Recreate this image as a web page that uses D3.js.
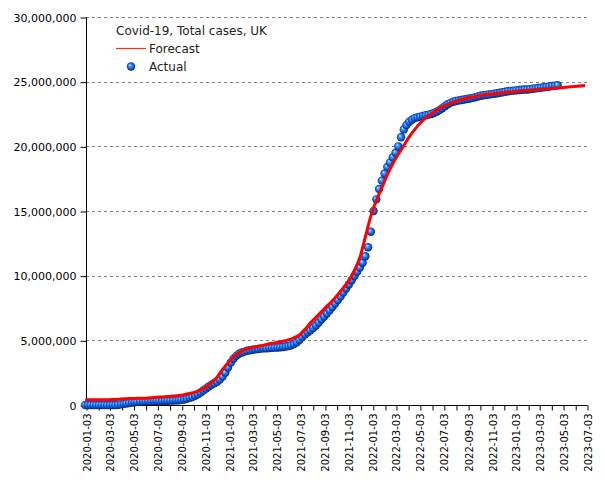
<!DOCTYPE html>
<html>
<head>
<meta charset="utf-8">
<script src="https://cdn.jsdelivr.net/npm/d3@7"></script>
<style>
  html, body { margin: 0; padding: 0; background: #fff; }
  svg { display: block; }
  text { font-family: "DejaVu Sans", sans-serif; }
</style>
</head>
<body>
<svg id="chart" width="605" height="480"></svg>
<script>
// ---- Data (millions of total cases) ----
const chartTitle = "Covid-19, Total cases, UK";
const seriesNames = ["Forecast", "Actual"];

// Actual: weekly observations starting 2020-01-01
const actualStart = "2020-01-01";
const actualStepDays = 7;
const actualValues = [
  0, 0, 0, 0, 0, 0, 0, 0, 0, 0,
  0.001, 0.005, 0.017, 0.045, 0.085, 0.12, 0.155, 0.19, 0.215, 0.24,
  0.258, 0.272, 0.284, 0.293, 0.3, 0.306, 0.312, 0.317, 0.322, 0.327,
  0.332, 0.338, 0.345, 0.355, 0.372, 0.395, 0.43, 0.48, 0.56, 0.62,
  0.72, 0.82, 0.97, 1.12, 1.28, 1.43, 1.57, 1.68, 1.80, 1.97,
  2.2, 2.5, 2.9, 3.28, 3.58, 3.8, 3.96, 4.06, 4.13, 4.19,
  4.23, 4.27, 4.3, 4.33, 4.36, 4.38, 4.39, 4.41, 4.42, 4.44,
  4.45, 4.47, 4.49, 4.52, 4.56, 4.62, 4.71, 4.84, 5.03, 5.25,
  5.45, 5.62, 5.78, 5.95, 6.15, 6.38, 6.62, 6.85, 7.08, 7.32,
  7.58, 7.85, 8.12, 8.4, 8.7, 9.0, 9.32, 9.65, 9.98, 10.3,
  10.62, 11.0, 11.5, 12.2, 13.4, 15.0, 15.9, 16.7, 17.35, 17.9,
  18.4, 18.75, 19.15, 19.5, 20.0, 20.7, 21.3, 21.65, 21.9, 22.05,
  22.18, 22.25, 22.3, 22.35, 22.4, 22.45, 22.5, 22.58, 22.68, 22.8,
  22.95, 23.1, 23.25, 23.36, 23.45, 23.5, 23.55, 23.58, 23.62, 23.66,
  23.7, 23.75, 23.8, 23.86, 23.91, 23.95, 23.98, 24.01, 24.04, 24.07,
  24.1, 24.14, 24.18, 24.22, 24.26, 24.29, 24.31, 24.33, 24.35, 24.37,
  24.39, 24.4, 24.42, 24.45, 24.48, 24.51, 24.54, 24.57, 24.6, 24.63,
  24.66, 24.69, 24.72
];

// Forecast: fortnightly model values starting 2020-01-01
const forecastStart = "2020-01-01";
const forecastStepDays = 14;
const forecastValues = [
  0.40, 0.40, 0.40, 0.41, 0.41, 0.42, 0.44, 0.48, 0.50, 0.51,
  0.52, 0.53, 0.56, 0.60, 0.62, 0.65, 0.69, 0.73, 0.80, 0.89,
  1.00, 1.17, 1.40, 1.75, 2.15, 2.75, 3.25, 3.73, 4.05, 4.28,
  4.40, 4.49, 4.58, 4.68, 4.77, 4.85, 4.93, 5.03, 5.20, 5.42,
  5.85, 6.35, 6.78, 7.20, 7.65, 8.05, 8.55, 9.05, 9.60, 10.4,
  11.4, 13.0, 14.6, 15.8, 16.8, 17.8, 18.65, 19.4, 20.05, 20.75,
  21.3, 21.8, 22.2, 22.5, 22.8, 23.05, 23.25, 23.42, 23.56, 23.68,
  23.78, 23.86, 23.94, 24.0, 24.05, 24.1, 24.15, 24.19, 24.23, 24.27,
  24.3, 24.33, 24.37, 24.41, 24.44, 24.48, 24.51, 24.55, 24.59, 24.63,
  24.66, 24.7
];

const yTickValues = [0, 5000000, 10000000, 15000000, 20000000, 25000000, 30000000];
const xDomain = ["2020-01-03", "2023-07-03"];
const xTickLabels = [
  "2020-01-03", "2020-03-03", "2020-05-03", "2020-07-03", "2020-09-03", "2020-11-03",
  "2021-01-03", "2021-03-03", "2021-05-03", "2021-07-03", "2021-09-03", "2021-11-03",
  "2022-01-03", "2022-03-03", "2022-05-03", "2022-07-03", "2022-09-03", "2022-11-03",
  "2023-01-03", "2023-03-03", "2023-05-03", "2023-07-03"
];

// ---- Build ----
(function () {
const parse = d3.utcParse("%Y-%m-%d");
const fmtDate = d3.utcFormat("%Y-%m-%d");
const actual = actualValues.map((v, i) => ({ date: d3.utcDay.offset(parse(actualStart), i * actualStepDays), value: v * 1e6 }));
const forecast = forecastValues.map((v, i) => ({ date: d3.utcDay.offset(parse(forecastStart), i * forecastStepDays), value: v * 1e6 }));

const svg = d3.select("#chart");
const mLeft = 86, mRight = 587, mTop = 17, mBottom = 405;

const x = d3.scaleUtc().domain(xDomain.map(parse)).range([mLeft, mRight]);
const y = d3.scaleLinear().domain([0, 30000000]).range([mBottom, mTop]);

// all monthly ticks (3rd of each month)
const monthTicks = d3.utcMonth.range(parse("2020-01-01"), d3.utcDay.offset(parse(xDomain[1]), 1))
  .map(d => d3.utcDay.offset(d, 2));
const labelSet = new Set(xTickLabels);

const defs = svg.append("defs");
const grad = defs.append("radialGradient").attr("id", "ball")
  .attr("cx", "0.5").attr("cy", "0.5").attr("r", "0.55")
  .attr("fx", "0.35").attr("fy", "0.32");
grad.append("stop").attr("offset", "0%").attr("stop-color", "#c4f0ff");
grad.append("stop").attr("offset", "30%").attr("stop-color", "#3d9cff");
grad.append("stop").attr("offset", "65%").attr("stop-color", "#1259dc");
grad.append("stop").attr("offset", "100%").attr("stop-color", "#001660");

// gridlines
svg.append("g").selectAll("line")
  .data(yTickValues.filter(v => v > 0))
  .join("line")
  .attr("x1", mLeft).attr("x2", mRight + 1)
  .attr("y1", d => Math.round(y(d)) + 0.5).attr("y2", d => Math.round(y(d)) + 0.5)
  .attr("stroke", "#808080").attr("stroke-width", 1).attr("stroke-dasharray", "3,3");

// y axis
const yAxis = d3.axisLeft(y).tickValues(yTickValues).tickSize(6).tickPadding(4)
  .tickFormat(d3.format(",d"));
const gy = svg.append("g").attr("transform", `translate(${mLeft + 0.5},0.5)`).call(yAxis);
gy.select(".domain").attr("stroke", "#000").attr("d", `M0,${mTop}V${mBottom}`);
gy.selectAll(".tick line").attr("stroke", "#000");
gy.selectAll(".tick text").attr("font-size", 11).attr("fill", "#000")
  .attr("font-family", "DejaVu Sans, sans-serif");

// x axis
const xAxis = d3.axisBottom(x).tickValues(monthTicks).tickSize(5).tickPadding(4)
  .tickFormat(d => labelSet.has(fmtDate(d)) ? fmtDate(d) : "");
const gx = svg.append("g").attr("transform", `translate(0.5,${mBottom + 0.5})`).call(xAxis);
gx.select(".domain").attr("stroke", "#000").attr("d", `M${mLeft},0H${mRight}`);
gx.selectAll(".tick line").attr("stroke", "#000");
gx.selectAll(".tick text")
  .attr("font-size", 10).attr("fill", "#000")
  .attr("font-family", "DejaVu Sans, sans-serif")
  .attr("text-anchor", "end")
  .attr("transform", "rotate(-90)")
  .attr("x", -8).attr("y", 0).attr("dy", "0.35em");

// actual dots
svg.append("g").selectAll("circle")
  .data(actual)
  .join("circle")
  .attr("cx", d => x(d.date)).attr("cy", d => y(d.value))
  .attr("r", 4.2).attr("fill", "url(#ball)");

// forecast line
svg.append("path")
  .datum(forecast)
  .attr("fill", "none").attr("stroke", "#ff0000").attr("stroke-width", 3)
  .attr("d", d3.line().x(d => x(d.date)).y(d => y(d.value)).curve(d3.curveMonotoneX));

// legend
const lg = svg.append("g");
lg.append("text").attr("x", 116).attr("y", 35).attr("font-size", 12).attr("fill", "#222").text(chartTitle);
lg.append("line").attr("x1", 116).attr("x2", 146).attr("y1", 48.5).attr("y2", 48.5)
  .attr("stroke", "#ff3300").attr("stroke-width", 1.2);
lg.append("text").attr("x", 149).attr("y", 53).attr("font-size", 12).attr("fill", "#222").text(seriesNames[0]);
lg.append("circle").attr("cx", 131).attr("cy", 66.5).attr("r", 4.2).attr("fill", "url(#ball)");
lg.append("text").attr("x", 149).attr("y", 71).attr("font-size", 12).attr("fill", "#222").text(seriesNames[1]);
})();
</script>
</body>
</html>
